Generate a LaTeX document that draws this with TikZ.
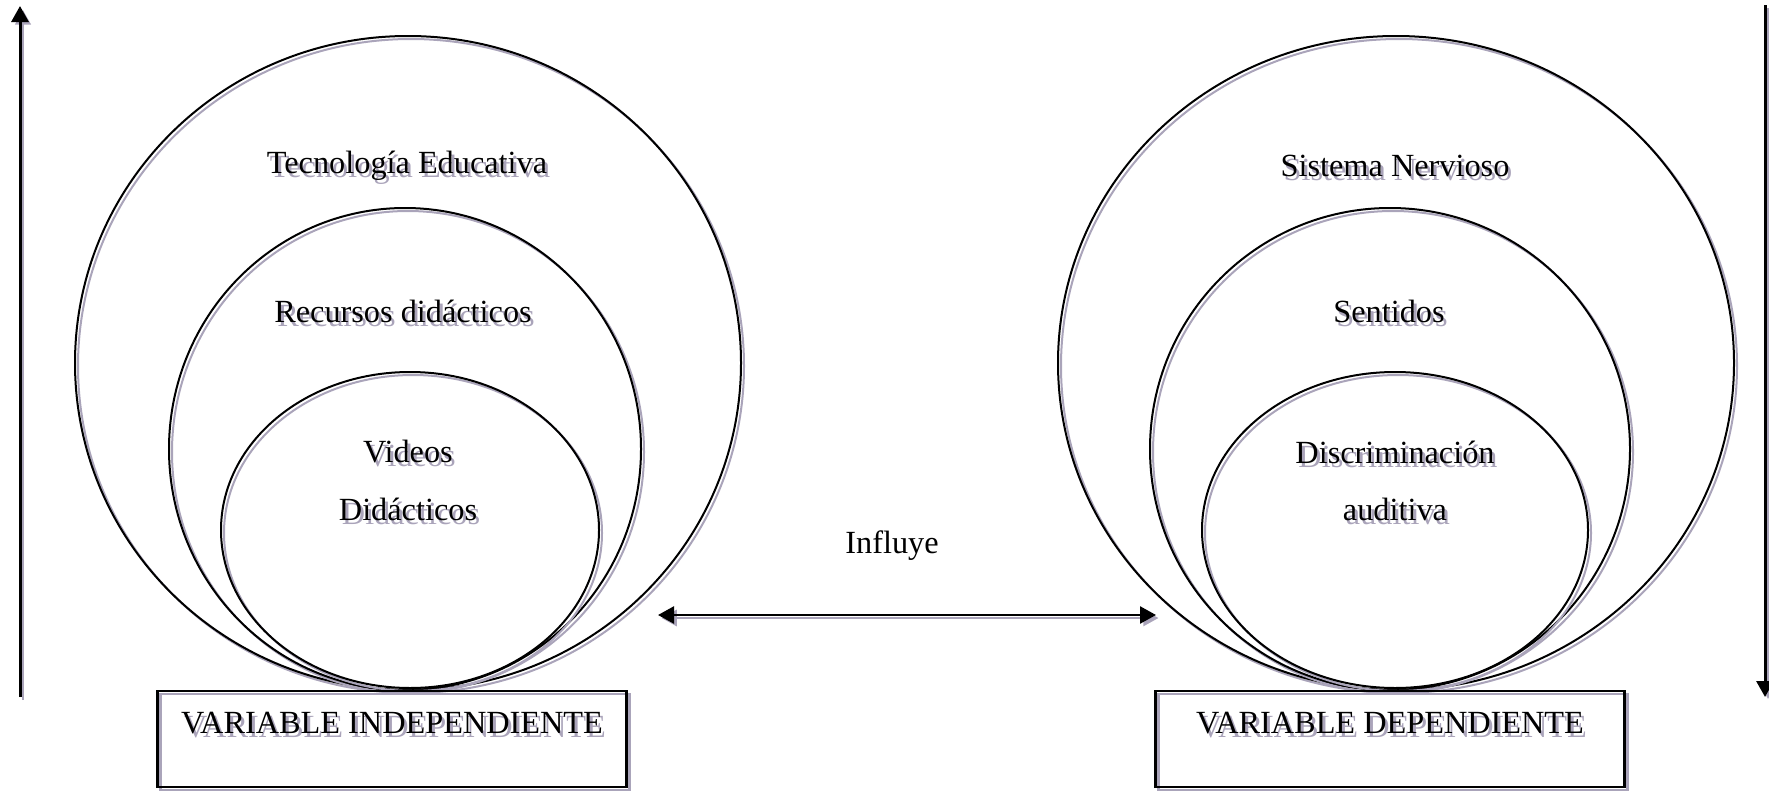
\documentclass[tikz,border=0pt]{standalone}
\usepackage{fontspec}
\setmainfont{Liberation Serif}
\usetikzlibrary{arrows.meta}
\definecolor{shade}{RGB}{170,164,186}
% black text over a grey copy, shifted down and right
\newcommand{\shtext}[1]{\makebox[0pt][l]{\hspace{3pt}\raisebox{-4pt}{\textcolor{shade}{#1}}}#1}

\begin{document}
\begin{tikzpicture}[x=1pt, y=-1pt, line width=2pt,
    >={Triangle[length=16pt, width=17pt]},
    shadowed/.style={preaction={draw=shade, transform canvas={xshift=3pt, yshift=-3pt}}},
    lbl/.style={font=\fontsize{32.3}{38}\selectfont, inner sep=0pt},
    varbox/.style={draw, line width=2.5pt, minimum width=469pt, minimum height=96pt, inner sep=0pt}]
    \useasboundingbox (0,0) rectangle (1769,790);

    % left: independent variable
    \draw[shadowed] (408,363) ellipse [x radius=333, y radius=327];
    \draw[shadowed] (405,449) ellipse [x radius=236, y radius=241];
    \draw[shadowed] (410,530) ellipse [x radius=189, y radius=158];
    \node[lbl] (tecno) at (407,168) {\shtext{Tecnología Educativa}};
    \node[lbl] (recur) at (403,313) {\shtext{Recursos didácticos}};
    \node[lbl] (video) at (408,454) {\shtext{Videos}};
    \node[lbl] (didac) at (408,511) {\shtext{Didácticos}};
    \node[varbox, shadowed] (indep) at (392,739) {};
    \node[lbl] (indeptxt) at (392,725) {\shtext{VARIABLE INDEPENDIENTE}};

    % right: dependent variable
    \draw[shadowed] (1396,363) ellipse [x radius=338, y radius=327];
    \draw[shadowed] (1390,449) ellipse [x radius=240, y radius=241];
    \draw[shadowed] (1395,530) ellipse [x radius=193, y radius=158];
    \node[lbl] (nerv) at (1395,168) {\shtext{Sistema Nervioso}};
    \node[lbl] (sent) at (1389,313) {\shtext{Sentidos}};
    \node[lbl] (discr) at (1395,454) {\shtext{Discriminación}};
    \node[lbl] (audit) at (1395,511) {\shtext{auditiva}};
    \node[varbox, shadowed] (dep) at (1390,739) {};
    \node[lbl] (deptxt) at (1390,725) {\shtext{VARIABLE DEPENDIENTE}};

    % influence between the two
    \coordinate (infl-l) at (658,615);
    \coordinate (infl-r) at (1156,615);
    \draw[shadowed, line width=2.5pt, <->] (infl-l) -- (infl-r);
    \node[lbl] (influye) at (892,546) {Influye};

    % side arrows
    \coordinate (up-a) at (20,697);
    \coordinate (up-b) at (20,6);
    \coordinate (down-a) at (1765,5);
    \coordinate (down-b) at (1765,697);
    \draw[shadowed, line width=3pt, ->] (up-a) -- (up-b);
    \draw[shadowed, line width=3pt, ->] (down-a) -- (down-b);
\end{tikzpicture}
\end{document}
